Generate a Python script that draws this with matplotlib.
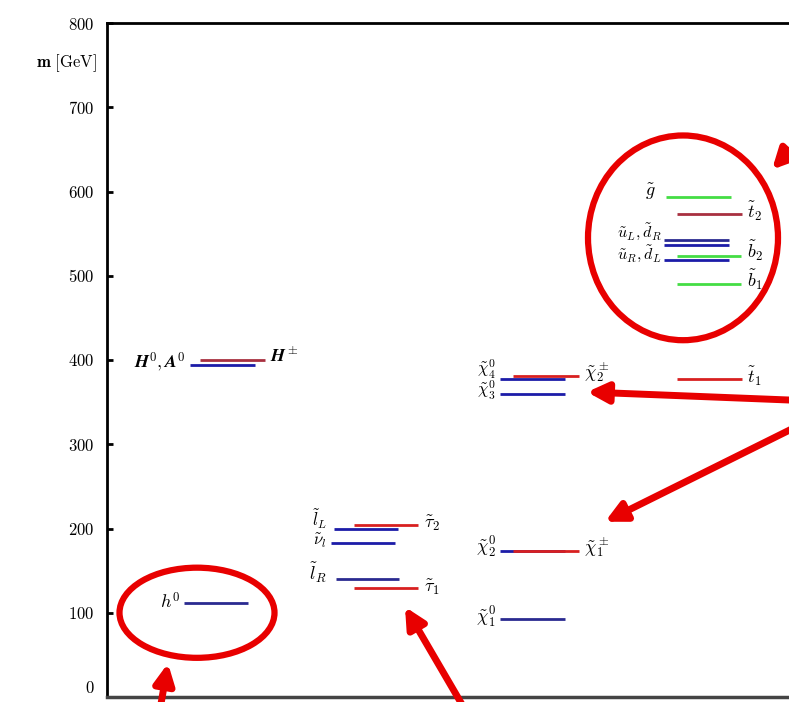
import matplotlib
matplotlib.use("Agg")
import matplotlib.pyplot as plt
from matplotlib.patches import Ellipse

plt.rcParams['mathtext.fontset'] = 'cm'
plt.rcParams['font.family'] = 'serif'
plt.rcParams['font.serif'] = ['DejaVu Serif']

# mass spectrum (GeV)
higgs_names = ['h0', 'H0', 'Hpm']
higgs_mass = [112, 394, 400]

slepton_names = ['lL', 'tau2', 'nu', 'lR', 'tau1']
slepton_mass = [199, 204, 183, 140, 129]

gaugino_names = ['chi4', 'chi2pm', 'chi3', 'chi2', 'chi1pm', 'chi1']
gaugino_mass = [378, 381, 360, 173, 173, 93]

squark_names = ['gluino', 'st2', 'uL', 'dR', 'sb2', 'uR', 'sb1', 'st1']
squark_mass = [594, 573, 542, 536, 523, 519, 490, 377]

yticks = [0, 100, 200, 300, 400, 500, 600, 700, 800]

blue = '#1c1ca8'
navy = '#2a2a90'
red = '#d82020'
green = '#44dd44'
brown = '#a83040'

# x-span (drawing columns) and colour per level
span = {
    'h0': (184, 248, navy), 'H0': (190, 255, blue), 'Hpm': (200, 265, brown),
    'lL': (334, 398, blue), 'tau2': (354, 418, red), 'nu': (331, 395, blue),
    'lR': (336, 399, navy), 'tau1': (354, 418, red),
    'chi4': (500, 565, blue), 'chi2pm': (513, 579, red), 'chi3': (500, 565, blue),
    'chi2': (500, 565, blue), 'chi1pm': (513, 579, red), 'chi1': (500, 565, navy),
    'gluino': (666, 731, green), 'st2': (677, 742, brown), 'uL': (664, 729, navy),
    'dR': (664, 729, blue), 'sb2': (677, 741, green), 'uR': (664, 729, blue),
    'sb1': (677, 741, green), 'st1': (677, 742, red),
}

fig = plt.figure(figsize=(7.89, 7.02), dpi=100)
ax = fig.add_axes([107 / 789, 5 / 702, (900 - 107) / 789, 674 / 702])
ax.set_xlim(107, 900)
ax.set_ylim(0, 800)

for names, masses in [(higgs_names, higgs_mass), (slepton_names, slepton_mass),
                      (gaugino_names, gaugino_mass), (squark_names, squark_mass)]:
    for n, m in zip(names, masses):
        x0, x1, c = span[n]
        ax.plot([x0, x1], [m, m], color=c, lw=2.0, solid_capstyle='butt')

# labels
fs = 13
def lab(x, m, s, ha='left', size=fs):
    ax.text(x, m, s, ha=ha, va='center', fontsize=size, clip_on=False)

lab(180, 112, r'$h^0$', ha='right')
lab(186, 397, r'$\mathbfit{H}^0, \mathbfit{A}^0$', ha='right')
lab(270, 404, r'$\mathbfit{H}^\pm$')
lab(327, 211, r'$\tilde{l}_L$', ha='right', size=12)
lab(327, 186, r'$\tilde{\nu}_l$', ha='right', size=12)
lab(327, 147, r'$\tilde{l}_R$', ha='right')
lab(424, 206, r'$\tilde{\tau}_2$')
lab(424, 130, r'$\tilde{\tau}_1$')
lab(496, 389, r'$\tilde{\chi}^0_4$', ha='right', size=12)
lab(496, 364, r'$\tilde{\chi}^0_3$', ha='right', size=12)
lab(584, 386, r'$\tilde{\chi}^\pm_2$')
lab(496, 177, r'$\tilde{\chi}^0_2$', ha='right')
lab(584, 178, r'$\tilde{\chi}^\pm_1$')
lab(496, 95, r'$\tilde{\chi}^0_1$', ha='right')
lab(747, 380, r'$\tilde{t}_1$')
lab(656, 599, r'$\tilde{g}$', ha='right')
lab(747, 576, r'$\tilde{t}_2$')
lab(662, 553, r'$\tilde{u}_L, \tilde{d}_R$', ha='right', size=11.5)
lab(662, 526, r'$\tilde{u}_R, \tilde{d}_L$', ha='right', size=11.5)
lab(747, 529, r'$\tilde{b}_2$')
lab(747, 495, r'$\tilde{b}_1$')

ax.text(97, 752, r'$\mathbf{m}\ \mathrm{[GeV]}$', ha='right', va='center',
        fontsize=12, clip_on=False)

# axes style
ax.set_yticks(yticks)
ax.set_yticklabels([r'$\mathbf{%d}$' % t for t in yticks], fontsize=12)
ax.get_yticklabels()[0].set_verticalalignment('bottom')
ax.set_xticks([])
ax.tick_params(axis='y', direction='in', length=4, width=2, pad=9)
ax.spines['right'].set_visible(False)
for s in ['left', 'top']:
    ax.spines[s].set_linewidth(2)
ax.spines['bottom'].set_linewidth(2.5)
ax.spines['bottom'].set_color('#444444')

# red annotations
ac = '#e80000'
ax.add_patch(Ellipse((197, 100), 155, 107, fill=False, ec=ac, lw=4.5, clip_on=False))
ax.add_patch(Ellipse((683, 545), 190, 243, fill=False, ec=ac, lw=4.5, clip_on=False))

arrows = [((800, 661), (772, 626)), ((800, 352), (587, 362)),
          ((800, 323), (605, 208)), ((160, -15), (168, 40)),
          ((465, -15), (405, 107))]
for tail, head in arrows:
    ax.annotate('', xy=head, xytext=tail, annotation_clip=False,
                arrowprops=dict(arrowstyle='-|>', color=ac, lw=5,
                                mutation_scale=30, shrinkA=0, shrinkB=0))

fig.savefig('out.png', dpi=100)
